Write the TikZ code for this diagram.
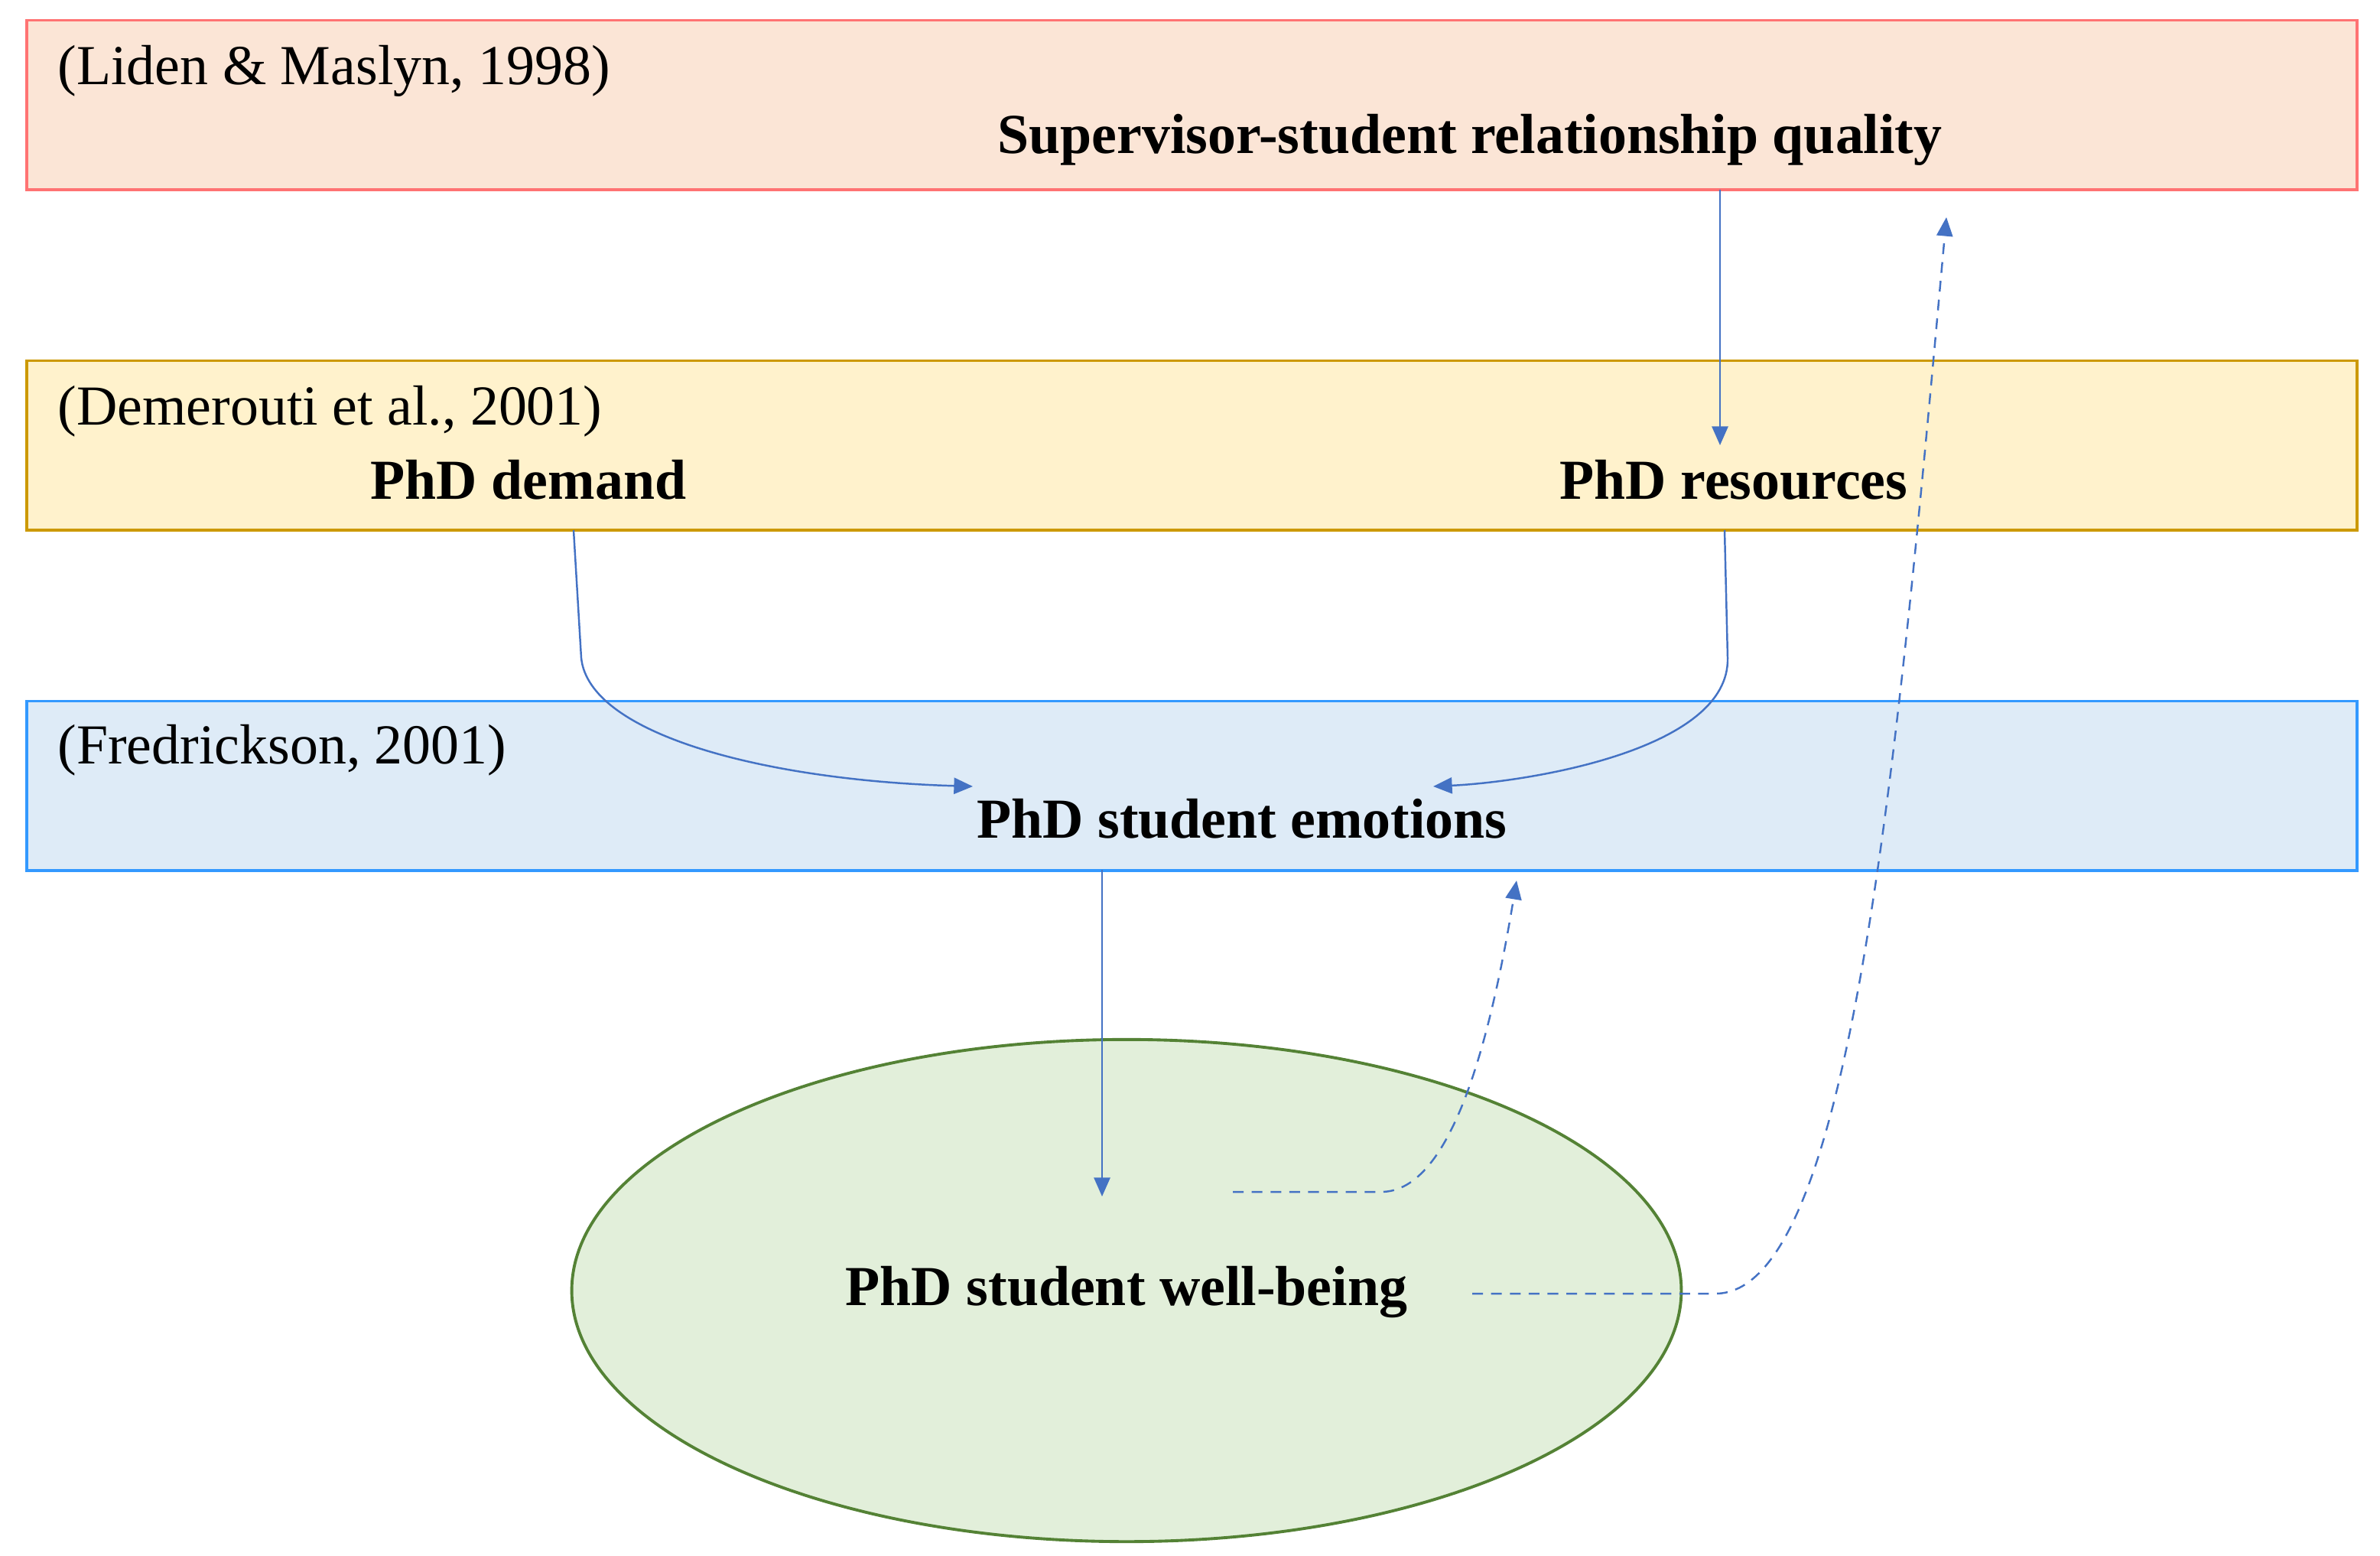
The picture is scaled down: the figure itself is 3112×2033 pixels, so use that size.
\documentclass[tikz,border=0pt]{standalone}
\usepackage{fontspec}
\setmainfont{Liberation Serif}
\usetikzlibrary{arrows.meta,shapes.geometric}
\definecolor{arr}{HTML}{4472C4}
\begin{document}
\begin{tikzpicture}[x=0.01cm,y=-0.01cm,
  box/.style={draw,line width=1.1pt,minimum width=30.45cm,minimum height=2.21cm,inner sep=0},
  lab/.style={font=\fontsize{21}{24}\selectfont,anchor=west,inner sep=0},
  ttl/.style={font=\fontsize{21}{24}\selectfont\bfseries,inner sep=0},
  con/.style={arr,line width=0.7pt,-{Triangle[length=7pt,width=6pt]}},
  dcon/.style={con,dashed,dash pattern=on 4pt off 3pt}]
\useasboundingbox (0,0) rectangle (3112,2033);
\node[box,draw=red!40!pink,fill={rgb,255:red,251;green,229;blue,214}] (b1) at (1558.5,137) {};
\node[box,draw={rgb,255:red,204;green,153;blue,0},fill={rgb,255:red,255;green,242;blue,204}] (b2) at (1558.5,582) {};
\node[box,draw={rgb,255:red,51;green,153;blue,255},fill={rgb,255:red,222;green,235;blue,247}] (b3) at (1558.5,1027) {};
\node[ellipse,draw={rgb,255:red,84;green,130;blue,53},line width=1.1pt,fill={rgb,255:red,226;green,239;blue,218},minimum width=14.5cm,minimum height=6.56cm] (el) at (1473,1687) {};
\node[lab] (l1) at (75,93) {(Liden \& Maslyn, 1998)};
\node[lab] (l2) at (75,538) {(Demerouti et al., 2001)};
\node[lab] (l3) at (75,981) {(Fredrickson, 2001)};
\node[ttl] (t1) at (1922,183) {Supervisor-student relationship quality};
\node[ttl] (t2) at (691,627) {PhD demand};
\node[ttl] (t3) at (2267,627) {PhD resources};
\node[ttl] (t4) at (1624,1070) {PhD student emotions};
\node[ttl] (t5) at (1473,1689) {PhD student well-being};
\coordinate (a1s) at (2249,248); \coordinate (a1e) at (2249,582);
\coordinate (a2s) at (750,693); \coordinate (a2e) at (1272,1028);
\coordinate (a3s) at (2255,693); \coordinate (a3e) at (1874,1028);
\coordinate (a4s) at (1441,1137); \coordinate (a4e) at (1441,1564);
\coordinate (a5s) at (1612,1558); \coordinate (a5e) at (1983,1151);
\coordinate (a6s) at (1925,1691); \coordinate (a6e) at (2545,284);
\draw[con] (a1s) -- (a1e);
\draw[con] (a2s) -- (760,860) .. controls (770,960) and (1000,1020) .. (a2e);
\draw[con] (a3s) -- (2259,860) .. controls (2262,980) and (2000,1022) .. (a3e);
\draw[con] (a4s) -- (a4e);
\draw[dcon] (a5s) -- (1806,1558) .. controls (1900,1558) and (1950,1350) .. (a5e);
\draw[dcon] (a6s) -- (2243,1691) .. controls (2420,1691) and (2480,1000) .. (a6e);
\end{tikzpicture}
\end{document}
